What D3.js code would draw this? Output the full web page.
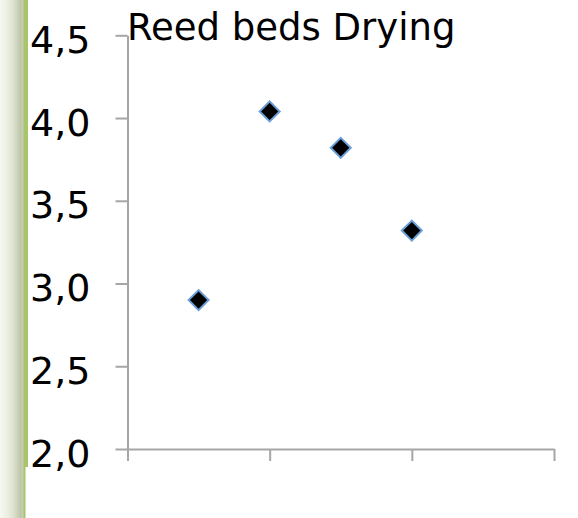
<!DOCTYPE html>
<html>
<head>
<meta charset="utf-8">
<script src="https://cdn.jsdelivr.net/npm/d3@7"></script>
<style>
  html, body { margin: 0; padding: 0; background: #fff; }
  svg { display: block; }
</style>
</head>
<body>
<svg id="chart" width="578" height="518"></svg>
<script>
// Reed beds – drying measurements
const chartTitle = "Reed beds Drying";
const xValues = [1, 2, 3, 4];
const yValues = [2.90, 4.04, 3.82, 3.32];
const yTickValues = [2.0, 2.5, 3.0, 3.5, 4.0, 4.5];
const yTickLabels = ["2,0", "2,5", "3,0", "3,5", "4,0", "4,5"];
const xTickValues = [0, 2, 4, 6];

const svg = d3.select("#chart");
const W = 578, H = 518;

// slide-style side band on the left
const defs = svg.append("defs");
const grad = defs.append("linearGradient").attr("id", "band")
  .attr("x1", "0").attr("x2", "1").attr("y1", "0").attr("y2", "0");
[["0%", "#f6f8f0"], ["25%", "#eef1e6"], ["55%", "#dde2d0"], ["85%", "#bfc7aa"], ["100%", "#c9d0b6"]]
  .forEach(([o, c]) => grad.append("stop").attr("offset", o).attr("stop-color", c));

svg.append("rect").attr("x", 0).attr("y", 0).attr("width", W).attr("height", H).attr("fill", "#fff");
svg.append("rect").attr("x", 0).attr("y", 0).attr("width", 24).attr("height", H).attr("fill", "url(#band)");
svg.append("rect").attr("x", 23.5).attr("y", 0).attr("width", 4.5).attr("height", 467).attr("fill", "#a8c56c");
svg.append("rect").attr("x", 23.5).attr("y", 467).attr("width", 2).attr("height", H - 467).attr("fill", "#a8c56c");

const x = d3.scaleLinear().domain([0, 6]).range([127.5, 554]);
const y = d3.scaleLinear().domain([2, 4.5]).range([449, 35.3]);

const axisColor = "#a6a6a6";
const font = "'DejaVu Sans', Verdana, sans-serif";

// y axis
const yAxis = svg.append("g")
  .attr("transform", `translate(${x(0)},0)`)
  .call(d3.axisLeft(y).tickValues(yTickValues).tickSize(12).tickSizeOuter(0)
    .tickFormat((d, i) => yTickLabels[i]).tickPadding(25));
yAxis.select(".domain").attr("stroke", axisColor).attr("stroke-width", 2);
yAxis.selectAll(".tick line").attr("stroke", axisColor).attr("stroke-width", 2);
yAxis.selectAll(".tick text")
  .attr("fill", "#000")
  .attr("font-family", font)
  .attr("font-size", 38)
  .attr("dy", "0.45em");

// x axis
const xAxis = svg.append("g")
  .attr("transform", `translate(0,${y(2)})`)
  .call(d3.axisBottom(x).tickValues(xTickValues).tickSize(12).tickSizeOuter(0).tickFormat(""));
xAxis.select(".domain").attr("stroke", axisColor).attr("stroke-width", 2);
xAxis.selectAll(".tick line").attr("stroke", axisColor).attr("stroke-width", 2);

// title
svg.append("text")
  .attr("x", 127).attr("y", 40)
  .attr("font-family", font)
  .attr("font-size", 37)
  .attr("fill", "#000")
  .text(chartTitle);

// markers: diamonds (rotated squares)
const diamond = d3.symbol().type(d3.symbolSquare).size(200);
const pts = xValues.map((v, i) => ({ x: v, y: yValues[i] }));
svg.append("g").selectAll("path").data(pts).join("path")
  .attr("d", diamond)
  .attr("transform", d => `translate(${x(d.x)},${y(d.y)}) rotate(45)`)
  .attr("fill", "#000")
  .attr("stroke", "#6a9fd8")
  .attr("stroke-width", 2);
</script>
</body>
</html>
